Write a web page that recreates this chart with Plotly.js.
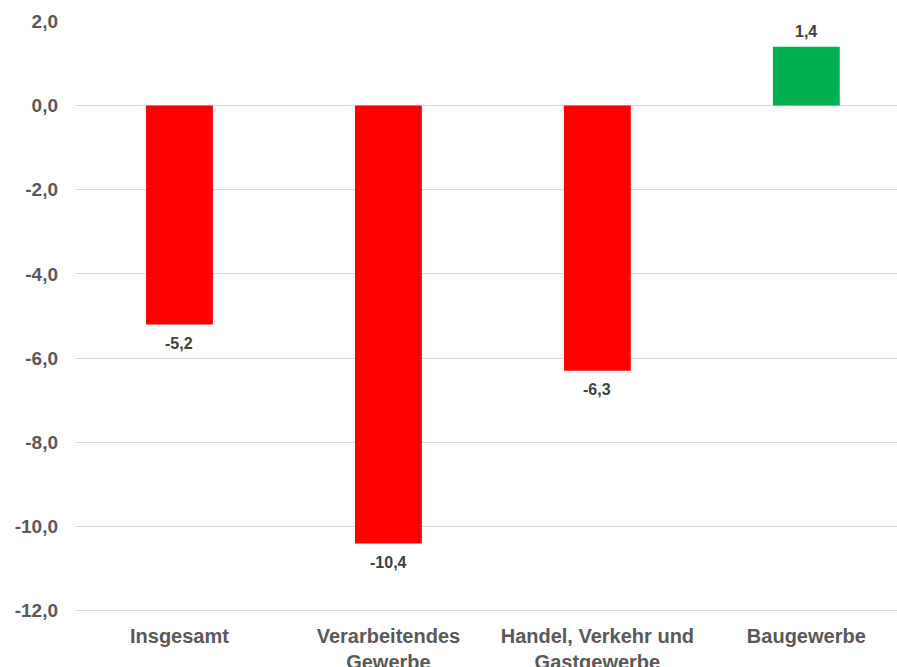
<!DOCTYPE html>
<html>
<head>
<meta charset="utf-8">
<script src="https://cdn.plot.ly/plotly-3.0.1.min.js"></script>
<style>html,body{margin:0;padding:0;background:#fff;}#chart{width:897px;height:667px;}</style>
</head>
<body>
<div id="chart"></div>
<script>
var categories = ["Insgesamt", "Verarbeitendes<br>Gewerbe", "Handel, Verkehr und<br>Gastgewerbe", "Baugewerbe"];
var values = [-5.2, -10.4, -6.3, 1.4];
var yTickValues = [-12, -10, -8, -6, -4, -2, 0, 2];

function fmt(v){ return v.toFixed(1).replace(".", ","); }
var colors = values.map(function(v){ return v < 0 ? "#ff0000" : "#00b050"; });
var FONT = "Liberation Sans, Arial, sans-serif";

var trace = {
  type: "bar",
  x: categories,
  y: values,
  width: 0.32,
  marker: {color: colors},
  hoverinfo: "skip"
};

var annotations = values.map(function(v, i){
  return {
    x: categories[i], y: v, xref: "x", yref: "y",
    text: fmt(v), showarrow: false,
    xanchor: "center", yanchor: "middle",
    yshift: v < 0 ? -19 : 15,
    font: {family: FONT, size: 16, color: "#404040", weight: "bold"}
  };
});

var layout = {
  width: 897, height: 667,
  margin: {l: 75, r: 0, t: 21, b: 55},
  paper_bgcolor: "#ffffff",
  plot_bgcolor: "#ffffff",
  showlegend: false,
  font: {family: FONT, color: "#595959"},
  annotations: annotations,
  xaxis: {
    type: "category",
    range: [-0.5, 3.434],
    showgrid: false, showline: false, zeroline: false,
    ticks: "",
    ticklabelstandoff: 10,
    tickfont: {size: 20, color: "#595959", weight: "bold"},
    automargin: false
  },
  yaxis: {
    range: [-12.03, 2.01],
    tickvals: yTickValues,
    ticktext: yTickValues.map(fmt),
    showgrid: true, gridcolor: "#d9d9d9", gridwidth: 1,
    zeroline: true, zerolinecolor: "#d9d9d9", zerolinewidth: 1,
    showline: false,
    ticks: "",
    ticklabelstandoff: 16,
    tickfont: {size: 19, color: "#595959", weight: "bold"},
    automargin: false
  }
};

Plotly.newPlot("chart", [trace], layout, {displayModeBar: false, staticPlot: true});
</script>
</body>
</html>
